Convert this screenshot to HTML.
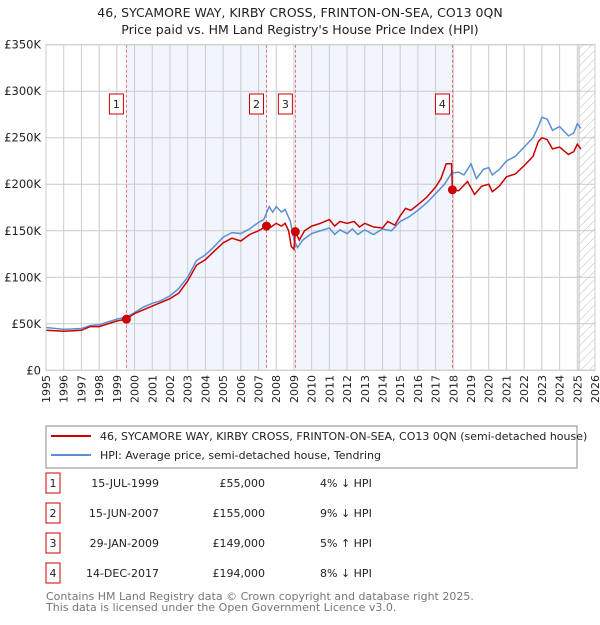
<!DOCTYPE html>
<html><head><meta charset="utf-8"><style>
body{margin:0;background:#fff;font-family:"Liberation Sans","DejaVu Sans",sans-serif;}
svg text{font-family:"DejaVu Sans","Liberation Sans",sans-serif;}
</style></head><body>
<svg id="c" width="600" height="620" xmlns="http://www.w3.org/2000/svg">
<text x="300" y="17" text-anchor="middle" font-size="12.5" fill="#222">46, SYCAMORE WAY, KIRBY CROSS, FRINTON-ON-SEA, CO13 0QN</text>
<text x="300" y="34" text-anchor="middle" font-size="12.5" fill="#222">Price paid vs. HM Land Registry's House Price Index (HPI)</text>
<g id="plot"></g>
<rect x="46" y="426" width="531" height="42" fill="#fff" stroke="#888"/>
<line x1="51" y1="436" x2="91" y2="436" stroke="#cc0000" stroke-width="2"/>
<text x="100" y="440" font-size="11" fill="#222">46, SYCAMORE WAY, KIRBY CROSS, FRINTON-ON-SEA, CO13 0QN (semi-detached house)</text>
<line x1="51" y1="455" x2="91" y2="455" stroke="#5b8fd4" stroke-width="2"/>
<text x="100" y="459" font-size="11" fill="#222">HPI: Average price, semi-detached house, Tendring</text>
<g id="table"></g>
<text x="46" y="600" font-size="11" fill="#777">Contains HM Land Registry data © Crown copyright and database right 2025.</text>
<text x="46" y="611" font-size="11" fill="#777">This data is licensed under the Open Government Licence v3.0.</text>
</svg>
<script>
const yTicks=[0,50,100,150,200,250,300,350];
const yTickLabels=["£0","£50K","£100K","£150K","£200K","£250K","£300K","£350K"];
const xYears=[1995,1996,1997,1998,1999,2000,2001,2002,2003,2004,2005,2006,2007,2008,2009,2010,2011,2012,2013,2014,2015,2016,2017,2018,2019,2020,2021,2022,2023,2024,2025,2026];
const hpiT=[1995,1995.5,1996,1997,1997.5,1998,1998.5,1999,1999.5,2000,2000.5,2001,2001.5,2002,2002.5,2003,2003.5,2004,2004.5,2005,2005.5,2006,2006.5,2007,2007.3,2007.6,2007.8,2008,2008.3,2008.5,2008.8,2009,2009.2,2009.5,2010,2010.5,2011,2011.3,2011.6,2012,2012.3,2012.6,2013,2013.5,2014,2014.5,2015,2015.5,2016,2016.5,2017,2017.5,2017.9,2018.3,2018.6,2019,2019.3,2019.7,2020,2020.2,2020.6,2021,2021.5,2022,2022.5,2022.8,2023,2023.3,2023.6,2024,2024.5,2024.8,2025,2025.2];
const hpiV=[46,45,44,45,48,49,52,55,57,62,68,72,75,80,88,100,118,124,133,143,148,147,152,159,162,176,170,176,170,173,160,140,132,140,147,150,153,146,151,147,152,146,151,146,152,150,160,165,172,180,190,200,212,213,210,222,206,216,218,210,216,225,230,240,250,262,272,270,258,262,252,255,265,260];
const ppT=[1995,1996,1997,1997.5,1998,1999,1999.54,2000,2001,2002,2002.5,2003,2003.5,2004,2004.5,2005,2005.5,2006,2006.5,2007,2007.45,2007.7,2008,2008.3,2008.5,2008.7,2008.85,2009,2009.08,2009.3,2009.6,2010,2010.5,2011,2011.3,2011.6,2012,2012.4,2012.7,2013,2013.5,2014,2014.3,2014.7,2015,2015.3,2015.6,2016,2016.5,2017,2017.3,2017.6,2017.9,2017.95,2018.3,2018.8,2019.2,2019.6,2020,2020.2,2020.6,2021,2021.5,2022,2022.5,2022.8,2023,2023.3,2023.6,2024,2024.5,2024.8,2025,2025.2];
const ppV=[43,42,43,47,47,53,55,61,69,77,83,96,113,119,128,137,142,139,146,150,155,154,158,155,158,150,133,130,149,140,150,155,158,162,155,160,158,160,154,158,154,153,160,156,166,174,172,178,186,197,206,222,222,194,193,203,189,198,200,192,198,208,211,220,230,246,250,248,238,240,232,235,243,238];
const saleT=[1999.54,2007.45,2009.08,2017.95];
const saleV=[55,155,149,194];
const saleDates=["15-JUL-1999","15-JUN-2007","29-JAN-2009","14-DEC-2017"];
const salePrices=["£55,000","£155,000","£149,000","£194,000"];
const saleHpi=["4% ↓ HPI","9% ↓ HPI","5% ↑ HPI","8% ↓ HPI"];

const NS="http://www.w3.org/2000/svg";
const L=46,R=595,T=44.7,B=370.3;
const xs=t=>L+(t-1995)*(R-L)/31;
const ys=v=>B-v*(B-T)/350;
const g=document.getElementById('plot');
function mk(tag,at,parent){const e=document.createElementNS(NS,tag);for(const k in at)e.setAttribute(k,at[k]);(parent||g).appendChild(e);return e;}
let e;
e=mk('rect',{x:xs(saleT[0]),y:T,width:xs(saleT[1])-xs(saleT[0]),height:B-T,fill:'#eef3fc',opacity:0.8});


e=mk('rect',{x:xs(saleT[2]),y:T,width:xs(saleT[3])-xs(saleT[2]),height:B-T,fill:'#eef3fc',opacity:0.8});


yTicks.forEach((v,i)=>{
 e=mk('line',{x1:L,x2:R,y1:ys(v),y2:ys(v),stroke:'#ccc','stroke-width':1});
 
 
 e=mk('text',{x:L-5,y:ys(v)+4,'text-anchor':'end','font-size':11.5,fill:'#222'});e.textContent=yTickLabels[i];
 
 
});
xYears.forEach(yr=>{
 e=mk('line',{x1:xs(yr),x2:xs(yr),y1:T,y2:B,stroke:'#ccc','stroke-width':1});
 
 
 const x=xs(yr)+4;
 e=mk('text',{x:x,y:375,'text-anchor':'end','font-size':11,fill:'#222',transform:'rotate(-90 '+x+' 375)'});e.textContent=yr;
 
 
});
const defs=mk('defs',{});
const pat=mk('pattern',{id:'h',width:6,height:6,patternUnits:'userSpaceOnUse',patternTransform:'rotate(45)'},defs);
mk('line',{x1:0,y1:0,x2:0,y2:6,stroke:'#bbb','stroke-width':1},pat);
e=mk('rect',{x:xs(2025.1),y:T,width:R-xs(2025.1),height:B-T,fill:'url(#h)',stroke:'#bbb'});


saleT.forEach((t,i)=>{
 e=mk('line',{x1:xs(t),x2:xs(t),y1:T,y2:B,stroke:'#e05050','stroke-width':0.8,'stroke-dasharray':'3,2'});
 
 
 e=mk('rect',{x:xs(t)-17,y:94,width:14,height:20,fill:'#fff',stroke:'#cc0000'});
 
 
 e=mk('text',{x:xs(t)-10,y:108,'text-anchor':'middle','font-size':11,fill:'#222'});e.textContent=i+1;
 
 
});
e=mk('polyline',{points:hpiT.map((t,i)=>xs(t)+','+ys(hpiV[i])).join(' '),fill:'none',stroke:'#5b8fd4','stroke-width':1.5});


e=mk('polyline',{points:ppT.map((t,i)=>xs(t)+','+ys(ppV[i])).join(' '),fill:'none',stroke:'#cc0000','stroke-width':1.5});


saleT.forEach((t,i)=>{
 e=mk('circle',{cx:xs(t),cy:ys(saleV[i]),r:4.5,fill:'#cc0000'});
 
 
});
e=mk('rect',{x:L,y:T,width:R-L,height:B-T,fill:'none',stroke:'#ccc'});


const tb=document.getElementById('table');
saleT.forEach((t,i)=>{
 const y=483+i*30;
 e=mk('rect',{x:46,y:y-10,width:14,height:20,fill:'#fff',stroke:'#cc0000'},tb);
 
 
 e=mk('text',{x:53,y:y+4,'text-anchor':'middle','font-size':11,fill:'#222'},tb);e.textContent=i+1;
 
 
 e=mk('text',{x:159,y:y+4,'text-anchor':'end','font-size':11,fill:'#222'},tb);e.textContent=saleDates[i];
 
 
 e=mk('text',{x:265,y:y+4,'text-anchor':'end','font-size':11,fill:'#222'},tb);e.textContent=salePrices[i];
 
 
 e=mk('text',{x:320,y:y+4,'font-size':11,fill:'#222'},tb);e.textContent=saleHpi[i];
 
 
});
</script>
</body></html>
